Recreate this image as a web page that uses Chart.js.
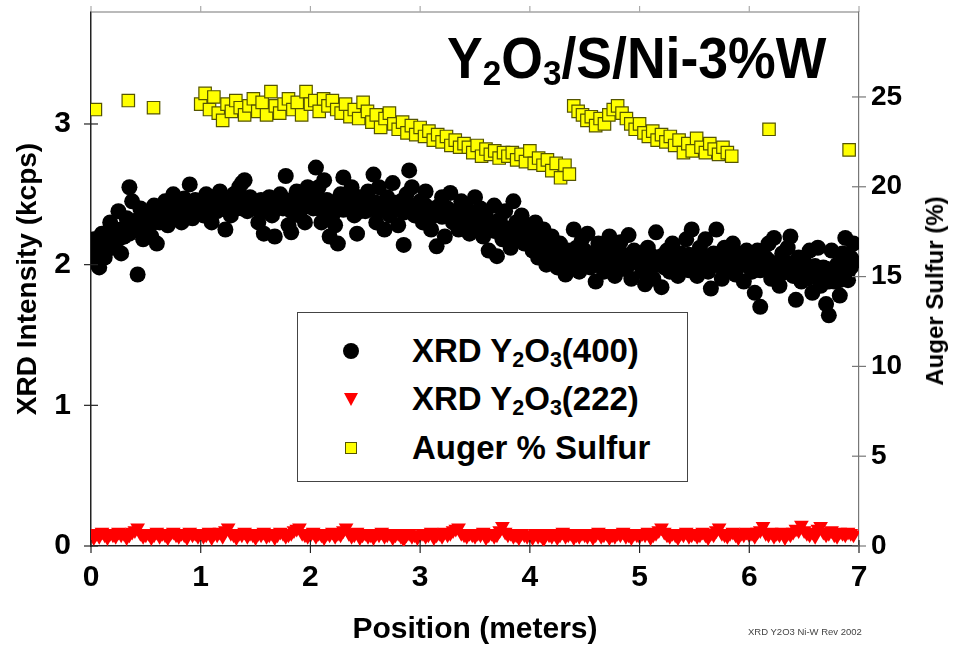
<!DOCTYPE html>
<html><head><meta charset="utf-8">
<script src="https://cdn.jsdelivr.net/npm/chart.js@4.4.0/dist/chart.umd.min.js"></script>
<style>
html,body{margin:0;padding:0;background:#fff;}
#wrap{position:relative;width:953px;height:645px;font-family:"Liberation Sans",Arial,sans-serif;overflow:hidden;}
#c{position:absolute;left:0;top:0;}
#title{position:absolute;left:447px;top:30px;font-weight:bold;font-size:57px;line-height:1;white-space:nowrap;color:#000;transform:scaleX(0.94);transform-origin:0 0;}
#title sub{font-size:0.62em;vertical-align:-0.2em;line-height:0;}
#legend{position:absolute;left:297px;top:312px;width:391px;height:170px;border:1.5px solid #444;box-sizing:border-box;background:#fff;}
.row{position:absolute;left:0;width:100%;height:40px;}
.txt{position:absolute;left:114px;top:0;line-height:40px;font-size:33px;font-weight:bold;color:#000;white-space:nowrap;}
.txt sub{font-size:0.65em;vertical-align:-0.25em;line-height:0;}
.m-circle{position:absolute;left:45px;top:12px;width:16px;height:16px;border-radius:50%;background:#000;}
.m-tri{position:absolute;left:46px;top:14px;width:0;height:0;border-left:7px solid transparent;border-right:7px solid transparent;border-top:13px solid #ff0000;}
.m-sq{position:absolute;left:47px;top:14px;width:10px;height:10px;background:#ffff00;border:1.5px solid #555500;}
#foot{position:absolute;left:748px;top:626px;font-size:9.5px;color:#444;white-space:nowrap;}
#rtitle{position:absolute;left:935px;top:291px;width:0;height:0;}
#rtitle span{position:absolute;left:0;top:0;transform:translate(-50%,-50%) rotate(-90deg);font-size:24px;font-weight:bold;white-space:nowrap;color:#000;line-height:1;}
</style>
</head><body>
<div id="wrap">
<canvas id="c" width="953" height="645"></canvas>
<div id="title">Y<sub>2</sub>O<sub>3</sub>/S/Ni-3%W</div>
<div id="legend">
  <div class="row" style="top:18px"><div class="m-circle"></div><div class="txt">XRD Y<sub>2</sub>O<sub>3</sub>(400)</div></div>
  <div class="row" style="top:66px"><div class="m-tri"></div><div class="txt">XRD Y<sub>2</sub>O<sub>3</sub>(222)</div></div>
  <div class="row" style="top:115px"><div class="m-sq"></div><div class="txt">Auger % Sulfur</div></div>
</div>
<div id="rtitle"><span>Auger Sulfur (%)</span></div>
<div id="foot">XRD Y2O3 Ni-W Rev 2002</div>
</div>
<script>
// Positions (meters) of the XRD scan
const xrdPos = [
0,0.025,0.05,0.075,0.1,0.125,0.15,0.175,0.2,0.225,0.25,0.275,0.3,0.325,0.35,0.375,0.4,0.425,0.45,0.475,
0.5,0.525,0.55,0.575,0.6,0.625,0.65,0.675,0.7,0.725,0.75,0.775,0.8,0.825,0.85,0.875,0.9,0.925,0.95,0.975,
1,1.025,1.05,1.075,1.1,1.125,1.15,1.175,1.2,1.225,1.25,1.275,1.3,1.325,1.35,1.375,1.4,1.425,1.45,1.475,
1.5,1.525,1.55,1.575,1.6,1.625,1.65,1.675,1.7,1.725,1.75,1.775,1.8,1.825,1.85,1.875,1.9,1.925,1.95,1.975,
2,2.025,2.05,2.075,2.1,2.125,2.15,2.175,2.2,2.225,2.25,2.275,2.3,2.325,2.35,2.375,2.4,2.425,2.45,2.475,
2.5,2.525,2.55,2.575,2.6,2.625,2.65,2.675,2.7,2.725,2.75,2.775,2.8,2.825,2.85,2.875,2.9,2.925,2.95,2.975,
3,3.025,3.05,3.075,3.1,3.125,3.15,3.175,3.2,3.225,3.25,3.275,3.3,3.325,3.35,3.375,3.4,3.425,3.45,3.475,
3.5,3.525,3.55,3.575,3.6,3.625,3.65,3.675,3.7,3.725,3.75,3.775,3.8,3.825,3.85,3.875,3.9,3.925,3.95,3.975,
4,4.025,4.05,4.075,4.1,4.125,4.15,4.175,4.2,4.225,4.25,4.275,4.3,4.325,4.35,4.375,4.4,4.425,4.45,4.475,
4.5,4.525,4.55,4.575,4.6,4.625,4.65,4.675,4.7,4.725,4.75,4.775,4.8,4.825,4.85,4.875,4.9,4.925,4.95,4.975,
5,5.025,5.05,5.075,5.1,5.125,5.15,5.175,5.2,5.225,5.25,5.275,5.3,5.325,5.35,5.375,5.4,5.425,5.45,5.475,
5.5,5.525,5.55,5.575,5.6,5.625,5.65,5.675,5.7,5.725,5.75,5.775,5.8,5.825,5.85,5.875,5.9,5.925,5.95,5.975,
6,6.025,6.05,6.075,6.1,6.125,6.15,6.175,6.2,6.225,6.25,6.275,6.3,6.325,6.35,6.375,6.4,6.425,6.45,6.475,
6.5,6.525,6.55,6.575,6.6,6.625,6.65,6.675,6.7,6.725,6.75,6.775,6.8,6.825,6.85,6.875,6.9,6.925,6.95
];
// XRD Y2O3(400) intensity (kcps), first reading at each position
const xrd400 = [
2.02,2.18,2.10,1.98,2.22,2.05,2.15,2.30,2.12,2.25,2.38,2.08,2.20,2.33,2.55,2.45,2.28,1.93,2.40,2.18,
2.25,2.35,2.20,2.42,2.15,2.30,2.38,2.45,2.28,2.40,2.50,2.35,2.42,2.30,2.47,2.38,2.57,2.33,2.44,2.40,
2.45,2.35,2.50,2.40,2.30,2.48,2.38,2.52,2.42,2.25,2.45,2.35,2.50,2.40,2.55,2.58,2.60,2.38,2.48,2.42,
2.40,2.30,2.45,2.22,2.38,2.48,2.35,2.20,2.42,2.50,2.45,2.63,2.28,2.23,2.40,2.52,2.35,2.45,2.30,2.55,
2.48,2.40,2.69,2.55,2.30,2.60,2.45,2.20,2.35,2.28,2.15,2.50,2.62,2.40,2.45,2.55,2.35,2.22,2.48,2.40,
2.38,2.52,2.45,2.64,2.30,2.55,2.42,2.25,2.48,2.35,2.58,2.40,2.28,2.45,2.14,2.50,2.67,2.55,2.35,2.42,
2.45,2.30,2.52,2.38,2.25,2.35,2.13,2.42,2.48,2.20,2.40,2.51,2.30,2.38,2.25,2.45,2.32,2.40,2.22,2.35,
2.48,2.30,2.40,2.20,2.35,2.10,2.28,2.42,2.06,2.32,2.18,2.38,2.25,2.12,2.45,2.30,2.20,2.35,2.15,2.28,
2.22,2.10,2.30,2.05,2.18,2.25,2.00,2.12,2.20,2.08,1.98,2.15,2.05,1.93,2.10,2.00,2.25,2.12,1.95,2.18,
2.10,2.22,1.98,2.05,1.88,2.15,2.02,1.95,2.12,2.20,2.00,1.92,2.08,2.16,1.97,2.05,2.21,1.90,2.10,2.02,
2.08,1.95,1.86,2.12,2.02,1.90,2.23,2.05,1.84,1.98,2.10,1.95,2.15,2.02,1.92,2.08,2.00,2.18,1.96,2.25,
2.05,1.92,2.12,2.00,2.18,1.95,1.83,2.08,2.25,2.02,1.90,2.12,1.98,2.05,2.15,1.93,2.08,2.00,1.88,2.10,
2.02,1.95,1.80,2.10,1.70,1.98,2.05,2.15,1.90,2.19,2.00,1.85,2.08,1.95,2.12,2.20,1.92,1.75,2.05,1.88,
2.02,1.90,2.10,1.80,1.95,2.12,1.85,1.98,1.72,1.64,2.10,1.88,2.00,1.78,2.08,2.19,1.89,2.05,2.15
];
// XRD Y2O3(400) intensity (kcps), second reading at each position
const xrd400b = [
2.08,2.12,2.05,2.15,2.10,2.18,2.12,2.20,2.15,2.22,2.18,2.25,2.20,2.28,2.22,2.30,2.25,2.32,2.28,2.30,
2.32,2.28,2.35,2.30,2.38,2.33,2.36,2.40,2.35,2.42,2.38,2.36,2.44,2.40,2.38,2.45,2.42,2.40,2.46,2.43,
2.42,2.46,2.40,2.44,2.48,2.42,2.45,2.40,2.47,2.43,2.38,2.46,2.42,2.48,2.44,2.40,2.46,2.43,2.45,2.41,
2.44,2.40,2.46,2.42,2.45,2.38,2.44,2.41,2.47,2.43,2.40,2.46,2.42,2.38,2.45,2.41,2.44,2.40,2.46,2.42,
2.45,2.42,2.48,2.40,2.44,2.41,2.46,2.38,2.43,2.40,2.45,2.42,2.39,2.44,2.41,2.46,2.40,2.43,2.38,2.44,
2.42,2.39,2.45,2.41,2.44,2.38,2.43,2.40,2.46,2.42,2.38,2.44,2.40,2.42,2.37,2.43,2.40,2.38,2.42,2.39,
2.40,2.37,2.42,2.38,2.35,2.40,2.36,2.39,2.34,2.38,2.35,2.37,2.32,2.36,2.33,2.35,2.30,2.34,2.31,2.33,
2.30,2.33,2.28,2.31,2.26,2.30,2.27,2.24,2.28,2.25,2.22,2.26,2.23,2.20,2.24,2.21,2.18,2.22,2.19,2.16,
2.18,2.14,2.17,2.12,2.15,2.10,2.13,2.09,2.12,2.08,2.11,2.06,2.10,2.05,2.08,2.04,2.09,2.06,2.03,2.07,
2.05,2.08,2.03,2.06,2.02,2.07,2.04,2.00,2.06,2.03,2.08,2.01,2.05,2.02,2.07,2.03,2.00,2.05,2.02,2.06,
2.03,2.00,2.05,2.02,2.07,1.99,2.04,2.01,2.06,2.02,1.98,2.04,2.01,2.06,2.03,1.99,2.05,2.02,2.07,2.03,
2.00,2.05,2.02,2.07,2.03,1.99,2.04,2.01,2.06,2.02,1.98,2.04,2.00,2.05,2.02,1.97,2.03,2.00,2.05,2.01,
1.98,2.03,2.00,2.05,1.96,2.01,1.98,2.03,1.95,2.00,1.97,2.02,1.94,1.99,1.96,2.01,1.93,1.98,1.95,2.00,
1.96,1.92,1.98,1.94,1.99,1.90,1.95,1.92,1.97,1.88,1.94,1.91,1.96,1.89,1.93,2.00,1.95,1.98,2.02
];
// XRD Y2O3(222) intensity (kcps)
const xrd222 = [
0.08,0.06,0.09,0.07,0.10,0.08,0.06,0.09,0.08,0.07,0.10,0.08,0.09,0.06,0.08,0.10,0.11,0.13,0.09,0.07,
0.08,0.09,0.06,0.08,0.10,0.07,0.09,0.08,0.06,0.09,0.10,0.08,0.07,0.09,0.08,0.06,0.10,0.08,0.09,0.07,
0.09,0.07,0.08,0.10,0.06,0.09,0.08,0.10,0.07,0.11,0.13,0.09,0.08,0.06,0.09,0.08,0.10,0.07,0.09,0.08,
0.06,0.09,0.08,0.10,0.07,0.08,0.09,0.06,0.08,0.10,0.09,0.07,0.08,0.09,0.11,0.12,0.13,0.09,0.08,0.07,
0.08,0.10,0.07,0.09,0.08,0.06,0.09,0.08,0.10,0.07,0.09,0.08,0.11,0.13,0.09,0.07,0.08,0.10,0.06,0.08,
0.09,0.07,0.08,0.06,0.09,0.08,0.10,0.07,0.08,0.09,0.06,0.08,0.09,0.07,0.05,0.08,0.09,0.07,0.08,0.06,
0.08,0.09,0.07,0.08,0.10,0.06,0.08,0.09,0.07,0.10,0.08,0.09,0.11,0.12,0.13,0.09,0.08,0.07,0.09,0.08,
0.07,0.09,0.08,0.10,0.06,0.08,0.09,0.07,0.08,0.11,0.14,0.10,0.08,0.09,0.07,0.08,0.06,0.09,0.08,0.07,
0.08,0.06,0.09,0.07,0.08,0.05,0.09,0.08,0.07,0.09,0.06,0.08,0.10,0.07,0.08,0.09,0.06,0.08,0.07,0.09,
0.08,0.07,0.09,0.06,0.08,0.10,0.07,0.08,0.09,0.06,0.08,0.07,0.09,0.08,0.10,0.07,0.08,0.06,0.09,0.08,
0.07,0.09,0.08,0.10,0.06,0.08,0.09,0.11,0.13,0.10,0.08,0.07,0.09,0.08,0.06,0.09,0.08,0.10,0.07,0.08,
0.09,0.07,0.08,0.10,0.08,0.06,0.09,0.08,0.11,0.13,0.09,0.08,0.07,0.09,0.10,0.08,0.06,0.09,0.08,0.10,
0.08,0.09,0.07,0.10,0.11,0.14,0.09,0.08,0.10,0.07,0.09,0.08,0.10,0.06,0.09,0.08,0.10,0.12,0.11,0.15,
0.11,0.09,0.08,0.10,0.07,0.12,0.14,0.10,0.08,0.09,0.11,0.08,0.07,0.10,0.09,0.08,0.10,0.09,0.08
];
// Auger sulfur measurement positions (meters)
const augerPos = [
0.04,0.34,0.57,
1.00,1.04,1.08,1.12,1.16,1.20,1.24,1.28,1.32,1.36,
1.40,1.44,1.48,1.52,1.56,1.60,1.64,1.68,1.72,1.76,
1.80,1.84,1.88,1.92,1.96,2.00,2.04,2.08,2.12,2.16,
2.20,2.24,2.28,2.32,2.36,2.40,2.44,2.48,2.52,2.56,
2.60,2.64,2.68,2.72,2.76,2.80,2.84,2.88,2.92,2.96,
3.00,3.04,3.08,3.12,3.16,3.20,3.24,3.28,3.32,3.36,
3.40,3.44,3.48,3.52,3.56,3.60,3.64,3.68,3.72,3.76,
3.80,3.84,3.88,3.92,3.96,4.00,4.04,4.08,4.12,4.16,
4.20,4.24,4.28,4.32,4.36,
4.40,4.44,4.48,4.52,4.56,4.60,4.64,4.68,4.72,4.76,
4.80,4.84,4.88,4.92,4.96,5.00,5.04,5.08,5.12,5.16,
5.20,5.24,5.28,5.32,5.36,5.40,5.44,5.48,5.52,5.56,
5.60,5.64,5.68,5.72,5.76,5.80,5.84,
6.18,6.91
];
// Auger sulfur (%)
const augerS = [
24.3,24.8,24.4,
24.6,25.2,24.3,25.0,24.1,23.7,24.6,24.2,24.8,24.4,
24.0,24.5,24.9,24.2,24.7,24.0,25.3,24.5,24.1,24.6,
24.9,24.3,24.7,24.0,25.3,24.6,24.8,24.2,24.9,24.5,
24.8,24.3,24.1,24.6,23.9,24.3,23.8,24.7,24.2,23.6,
24.0,23.3,23.8,24.1,23.5,23.2,23.6,23.0,23.4,22.9,
23.3,22.8,23.1,22.6,22.9,22.5,22.8,22.3,22.6,22.2,
22.4,22.2,21.9,22.3,21.7,22.1,21.8,22.0,21.6,21.9,
21.7,21.9,21.5,21.8,21.4,22.0,21.3,21.6,21.2,21.5,
20.9,21.3,20.5,21.2,20.7,
24.5,24.2,24.0,23.7,23.9,23.4,23.8,23.5,24.0,24.3,
24.5,24.1,23.8,23.5,23.2,23.5,23.0,22.8,23.1,22.6,
22.9,22.5,22.8,22.3,22.6,21.9,22.4,22.0,22.7,22.2,
21.9,22.4,22.1,21.8,22.2,21.9,21.7,
23.2,22.05
];
const xTicks = [0,1,2,3,4,5,6,7];
const yTicks = [0,1,2,3];
const y2Ticks = [0,5,10,15,20,25];

const pts = (xs, ys) => xs.map((x, i) => ({x: x, y: ys[i]}));
const FONT = '"Liberation Sans", Arial, Helvetica, sans-serif';

const tickPlugin = {
  id: 'tickMarks',
  afterDraw(chart) {
    const {ctx, chartArea: {left, right, top, bottom}, scales: {x, y, y2}} = chart;
    ctx.save();
    ctx.lineWidth = 1.2;
    ctx.strokeStyle = '#777';
    ctx.beginPath(); ctx.moveTo(left, top); ctx.lineTo(right, top); ctx.stroke();
    xTicks.forEach(v => {
      const px = x.getPixelForValue(v);
      ctx.strokeStyle = '#222';
      ctx.beginPath(); ctx.moveTo(px, bottom - 6); ctx.lineTo(px, bottom + 7); ctx.stroke();
      ctx.strokeStyle = '#aaa';
      ctx.beginPath(); ctx.moveTo(px, top); ctx.lineTo(px, top - 6); ctx.stroke();
    });
    ctx.strokeStyle = '#222';
    yTicks.forEach(v => {
      const py = y.getPixelForValue(v);
      ctx.beginPath(); ctx.moveTo(left - 7, py); ctx.lineTo(left + 7, py); ctx.stroke();
    });
    ctx.strokeStyle = '#777';
    y2Ticks.forEach(v => {
      const py = y2.getPixelForValue(v);
      ctx.beginPath(); ctx.moveTo(right - 7, py); ctx.lineTo(right + 7, py); ctx.stroke();
    });
    ctx.restore();
  }
};

const keepTicks = list => scale => { scale.ticks = list.map(v => ({value: v})); };
const fixV = w => s => { s.width = w; s.paddingTop = 0; s.paddingBottom = 0; };

new Chart(document.getElementById('c'), {
  type: 'scatter',
  data: {
    datasets: [
      { label: 'XRD Y2O3(400)', data: pts(xrdPos, xrd400b).concat(pts(xrdPos, xrd400)), yAxisID: 'y',
        pointStyle: 'circle', pointRadius: 8, backgroundColor: '#000', borderColor: '#000', borderWidth: 0 },
      { label: 'XRD Y2O3(222)', data: pts(xrdPos, xrd222), yAxisID: 'y',
        pointStyle: 'triangle', pointRotation: 180, pointRadius: 8.5, backgroundColor: '#ff0000', borderColor: '#ff0000', borderWidth: 0 },
      { label: 'Auger % Sulfur', data: pts(augerPos, augerS), yAxisID: 'y2',
        pointStyle: 'rect', pointRadius: 8.8, backgroundColor: '#ffff00', borderColor: '#555500', borderWidth: 1.2 }
    ]
  },
  options: {
    responsive: false,
    animation: false,
    devicePixelRatio: 1,
    layout: { padding: { top: 12, left: 0, right: 0, bottom: 0 } },
    plugins: { legend: { display: false }, tooltip: { enabled: false } },
    scales: {
      x: {
        type: 'linear', min: 0, max: 7,
        afterFit: s => { s.height = 99; s.paddingLeft = 0; s.paddingRight = 0; },
        afterBuildTicks: keepTicks(xTicks),
        grid: { display: true, drawOnChartArea: false, drawTicks: false },
        border: { display: true, color: '#222', width: 1.5 },
        ticks: { color: '#000', padding: 14, font: { family: FONT, size: 30, weight: 'bold' } },
        title: { display: true, text: 'Position (meters)', color: '#000', padding: 0,
                 font: { family: FONT, size: 30, weight: 'bold', lineHeight: 1 } }
      },
      y: {
        type: 'linear', position: 'left', min: 0, max: 3.796,
        afterFit: fixV(91),
        afterBuildTicks: keepTicks(yTicks),
        grid: { display: true, drawOnChartArea: false, drawTicks: false },
        border: { display: true, color: '#222', width: 1.5 },
        ticks: { color: '#000', padding: 20, font: { family: FONT, size: 30, weight: 'bold' } },
        title: { display: true, text: 'XRD Intensity (kcps)', color: '#000', padding: { top: 11, bottom: 0 },
                 font: { family: FONT, size: 28, weight: 'bold', lineHeight: 1.2 } }
      },
      y2: {
        type: 'linear', position: 'right', min: 0, max: 29.73,
        afterFit: fixV(94),
        afterBuildTicks: keepTicks(y2Ticks),
        grid: { display: true, drawOnChartArea: false, drawTicks: false },
        border: { display: true, color: '#777', width: 1.2 },
        ticks: { color: '#000', padding: 12, font: { family: FONT, size: 28, weight: 'bold' } },
        title: { display: false }
      }
    }
  },
  plugins: [tickPlugin]
});
</script>
</body></html>
